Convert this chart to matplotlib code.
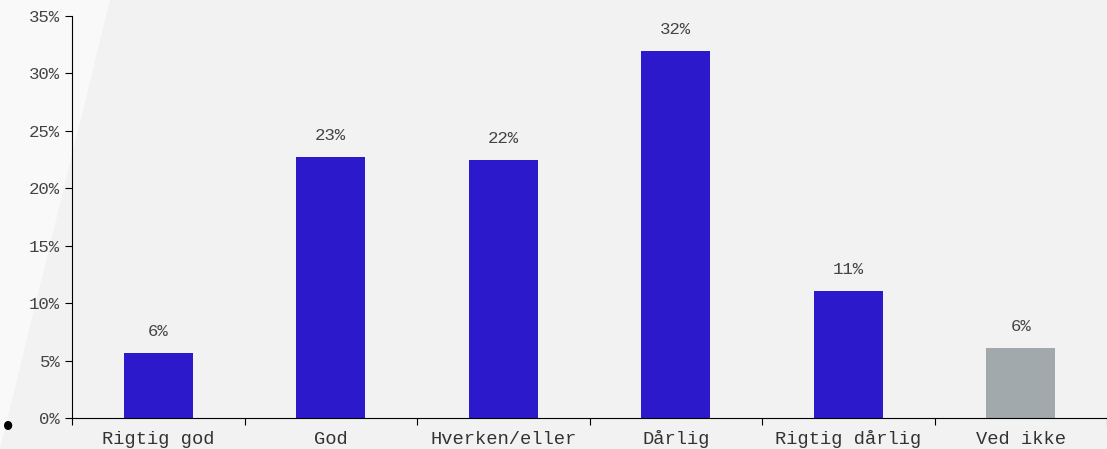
import matplotlib.pyplot as plt
from matplotlib.patches import Polygon
from matplotlib.ticker import FixedLocator, FuncFormatter

categories = ["Rigtig god", "God", "Hverken/eller", "Dårlig", "Rigtig dårlig", "Ved ikke"]
values = [5.66, 22.72, 22.46, 31.95, 11.06, 6.09]
labels = ["6%", "23%", "22%", "32%", "11%", "6%"]
colors = ["#2c19cc"] * 5 + ["#a1a9ac"]

plt.rcParams['font.family'] = ['Liberation Mono', 'DejaVu Sans Mono']

fig = plt.figure(figsize=(11.07, 4.49), dpi=100, facecolor="#f2f2f2")
# lighter diagonal band at the left edge
fig.patches.append(Polygon([(0, 1), (110 / 1107, 1), (0, 0)], closed=True,
                           transform=fig.transFigure, facecolor="#f9f9f9",
                           edgecolor="none", zorder=-5))
ax = fig.add_axes([72 / 1107, 31 / 449, 1 - 72 / 1107, 402 / 449])
ax.set_facecolor("none")
ax.set_zorder(2)

x = [i + 0.5 for i in range(len(categories))]
ax.bar(x, values, width=0.4, color=colors, zorder=2)
for xi, v, lab in zip(x, values, labels):
    ax.text(xi, v + 1.2, lab, ha="center", va="bottom", fontsize=12.5, color="#444444")

ax.set_xlim(0, 6)
ax.set_ylim(0, 35)
ax.xaxis.set_major_locator(FixedLocator(range(7)))
ax.xaxis.set_minor_locator(FixedLocator(x))
ax.set_xticklabels([])
ax.set_xticklabels(categories, minor=True, fontsize=13.5, color="#333333")
ax.tick_params(axis="x", which="minor", length=0, pad=9)
ax.tick_params(axis="x", which="major", length=5)
ax.set_yticks(range(0, 36, 5))
ax.yaxis.set_major_formatter(FuncFormatter(lambda v, p: f"{int(v)}%"))
ax.tick_params(axis="y", length=5, labelsize=12.5, labelcolor="#444444")

for s in ["top", "right"]:
    ax.spines[s].set_visible(False)

fig.text(8 / 1107, 1 - 428 / 449, "•", fontsize=22, ha="center", va="center", color="black")

fig.savefig("out.png", dpi=100, facecolor=fig.get_facecolor())
